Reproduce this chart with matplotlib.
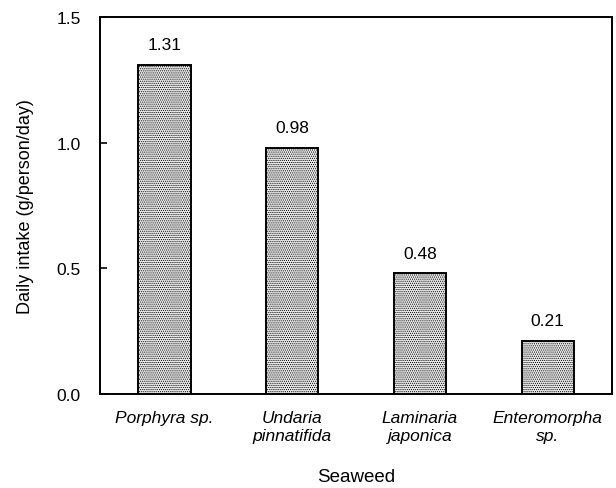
import matplotlib.pyplot as plt
import numpy as np

plt.rcParams['font.family'] = ['Liberation Sans', 'DejaVu Sans']

seaweeds = ["Porphyra sp.", "Undaria\npinnatifida", "Laminaria\njaponica", "Enteromorpha\nsp."]
intake = [1.31, 0.98, 0.48, 0.21]
yticks = [0.0, 0.5, 1.0, 1.5]

fig, ax = plt.subplots(figsize=(6.16, 4.89), dpi=100)
fig.subplots_adjust(left=0.163, right=0.993, top=0.963, bottom=0.193)

x = np.arange(len(seaweeds))
plt.rcParams['hatch.color'] = '#b4b4b4'
plt.rcParams['hatch.linewidth'] = 0.5
bars = ax.bar(x, intake, width=0.41, facecolor='#e6e6e6', edgecolor='black',
              linewidth=1.4, hatch='........')

for xi, v in zip(x, intake):
    ax.text(xi, v + 0.05, f"{v:.2f}", ha='center', va='bottom', fontsize=12.5)

ax.set_xlim(-0.5, 3.5)
ax.set_ylim(0, 1.5)
ax.set_yticks(yticks)
ax.set_yticklabels([f"{t:.1f}" for t in yticks], fontsize=12.5)
ax.set_xticks(x)
ax.set_xticklabels(seaweeds, fontsize=12.5, style='italic', linespacing=1.25)
ax.tick_params(axis='x', length=0, pad=12)
ax.tick_params(axis='y', direction='in', length=5, width=1.2, pad=14)
for s in ax.spines.values():
    s.set_linewidth(1.4)

ax.set_xlabel('Seaweed', fontsize=13.5, labelpad=18)
ax.set_ylabel('Daily intake (g/person/day)', fontsize=13, labelpad=16)

plt.savefig('out.png', dpi=100)
